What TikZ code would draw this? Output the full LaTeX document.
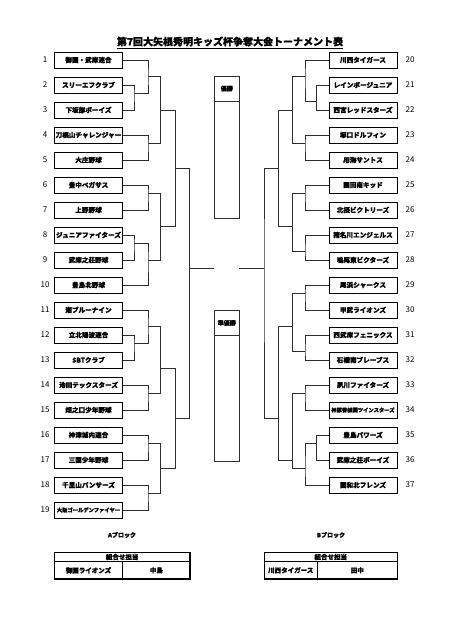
\documentclass[tikz,border=0pt]{standalone}
\usepackage{fontspec}
\setmainfont{Noto Sans CJK JP}[BoldFeatures={FakeBold=1.2}]
\usepackage{tikz}
\usetikzlibrary{positioning}
\definecolor{linegray}{RGB}{45, 45, 45}

\begin{document}
\begin{tikzpicture}[
    x=1pt, y=-1pt,
    team/.style={rectangle, draw=black, line width=0.9pt, minimum width=68pt, minimum height=16pt, inner sep=0pt, font=\bfseries\fontsize{6.6}{7}\selectfont},
    longname/.style={font=\bfseries\fontsize{5.3}{6}\selectfont},
    num/.style={font=\fontsize{8}{9}\selectfont},
    bracket/.style={draw=linegray, line width=0.8pt},
    prize/.style={rectangle, draw=linegray, line width=0.8pt, minimum width=25pt, inner sep=0pt, anchor=north},
    prizehead/.style={rectangle, draw=linegray, line width=0.8pt, minimum width=25pt, minimum height=25pt, inner sep=0pt, anchor=north, font=\bfseries\fontsize{6}{7}\selectfont},
    cell/.style={rectangle, draw=black, line width=1.2pt, inner sep=0pt, font=\bfseries\fontsize{6.5}{7}\selectfont}
]
    \useasboundingbox (0,0) rectangle (459,640);

    % Title
    \node (title) at (230, 42.5) {\bfseries\fontsize{10}{12}\selectfont\underline{第7回大矢根秀明キッズ杯争奪大会トーナメント表}};

    % A block teams
    \node (t1) [team] at (88.5, 60) {御園・武庫連合};
    \node (t2) [team] at (88.5, 85) {スリーエフクラブ};
    \node (t3) [team] at (88.5, 110) {下坂部ボーイズ};
    \node (t4) [team] at (88.5, 135) {刀根山チャレンジャー};
    \node (t5) [team] at (88.5, 160) {大庄野球};
    \node (t6) [team] at (88.5, 185) {豊中ペガサス};
    \node (t7) [team] at (88.5, 210) {上野野球};
    \node (t8) [team] at (88.5, 235) {ジュニアファイターズ};
    \node (t9) [team] at (88.5, 260) {武庫之荘野球};
    \node (t10) [team] at (88.5, 285) {豊島北野球};
    \node (t11) [team] at (88.5, 310) {潮ブルーナイン};
    \node (t12) [team] at (88.5, 335) {立北陽波連合};
    \node (t13) [team] at (88.5, 360) {SBTクラブ};
    \node (t14) [team] at (88.5, 385) {池田テックスターズ};
    \node (t15) [team] at (88.5, 410) {畑之口少年野球};
    \node (t16) [team] at (88.5, 435) {神津城内連合};
    \node (t17) [team] at (88.5, 460) {三国少年野球};
    \node (t18) [team] at (88.5, 485) {千里山パンサーズ};
    \node (t19) [team, longname] at (88.5, 510) {大阪ゴールデンファイヤー};

    % B block teams
    \node (t20) [team] at (363, 60) {川西タイガース};
    \node (t21) [team] at (363, 85) {レインボージュニア};
    \node (t22) [team] at (363, 110) {西宮レッドスターズ};
    \node (t23) [team] at (363, 135) {塚口ドルフィン};
    \node (t24) [team] at (363, 160) {用海サントス};
    \node (t25) [team] at (363, 185) {園田南キッド};
    \node (t26) [team] at (363, 210) {北摂ビクトリーズ};
    \node (t27) [team] at (363, 235) {猪名川エンジェルス};
    \node (t28) [team] at (363, 260) {鳴尾東ビクターズ};
    \node (t29) [team] at (363, 285) {尾浜シャークス};
    \node (t30) [team] at (363, 310) {甲武ライオンズ};
    \node (t31) [team] at (363, 335) {西武庫フェニックス};
    \node (t32) [team] at (363, 360) {石橋南ブレーブス};
    \node (t33) [team] at (363, 385) {夙川ファイターズ};
    \node (t34) [team, longname] at (363, 410) {神原香櫨園ツインスターズ};
    \node (t35) [team] at (363, 435) {豊島パワーズ};
    \node (t36) [team] at (363, 460) {武庫之荘ボーイズ};
    \node (t37) [team] at (363, 485) {園和北フレンズ};

    % Numbers
    \node (n1) [num] at (45, 60) {1};
    \node (n2) [num] at (45, 85) {2};
    \node (n3) [num] at (45, 110) {3};
    \node (n4) [num] at (45, 135) {4};
    \node (n5) [num] at (45, 160) {5};
    \node (n6) [num] at (45, 185) {6};
    \node (n7) [num] at (45, 210) {7};
    \node (n8) [num] at (45, 235) {8};
    \node (n9) [num] at (45, 260) {9};
    \node (n10) [num] at (45, 285) {10};
    \node (n11) [num] at (45, 310) {11};
    \node (n12) [num] at (45, 335) {12};
    \node (n13) [num] at (45, 360) {13};
    \node (n14) [num] at (45, 385) {14};
    \node (n15) [num] at (45, 410) {15};
    \node (n16) [num] at (45, 435) {16};
    \node (n17) [num] at (45, 460) {17};
    \node (n18) [num] at (45, 485) {18};
    \node (n19) [num] at (45, 510) {19};
    \node (n20) [num] at (410, 60) {20};
    \node (n21) [num] at (410, 85) {21};
    \node (n22) [num] at (410, 110) {22};
    \node (n23) [num] at (410, 135) {23};
    \node (n24) [num] at (410, 160) {24};
    \node (n25) [num] at (410, 185) {25};
    \node (n26) [num] at (410, 210) {26};
    \node (n27) [num] at (410, 235) {27};
    \node (n28) [num] at (410, 260) {28};
    \node (n29) [num] at (410, 285) {29};
    \node (n30) [num] at (410, 310) {30};
    \node (n31) [num] at (410, 335) {31};
    \node (n32) [num] at (410, 360) {32};
    \node (n33) [num] at (410, 385) {33};
    \node (n34) [num] at (410, 410) {34};
    \node (n35) [num] at (410, 435) {35};
    \node (n36) [num] at (410, 460) {36};
    \node (n37) [num] at (410, 485) {37};

    % Winner boxes
    \node (champ) [prize, minimum height=142pt] at (226.8, 75.7) {};
    \node (champhead) [prizehead] at (champ.north) {優勝};
    \node (second) [prize, minimum height=150.7pt] at (226.8, 310) {};
    \node (secondhead) [prizehead] at (second.north) {準優勝};

    % Junctions A block
    \coordinate (j23) at (134, 93.3);
    \coordinate (j1) at (148, 76.7);
    \coordinate (j45) at (148, 143.3);
    \coordinate (jA1) at (160.7, 110);
    \coordinate (j67) at (148, 193.3);
    \coordinate (j89) at (134, 243.3);
    \coordinate (j810) at (148, 260);
    \coordinate (jA2) at (160.7, 226.7);
    \coordinate (jA) at (175.3, 168.3);
    \coordinate (j1213) at (134, 343.3);
    \coordinate (j11) at (148, 326.7);
    \coordinate (j1415) at (148, 393.3);
    \coordinate (jB1) at (160.7, 368.3);
    \coordinate (j1617) at (148, 443.3);
    \coordinate (j1819) at (148, 493.3);
    \coordinate (jB2) at (160.7, 468.3);
    \coordinate (jB) at (175.3, 418.3);
    \coordinate (jL) at (189.5, 268.3);
    \coordinate (endL) at (214.3, 268.3);

    % Junctions B block
    \coordinate (r2122) at (316.7, 101.7);
    \coordinate (r20) at (305, 76.7);
    \coordinate (r2324) at (305, 143.3);
    \coordinate (rA1) at (292.7, 110);
    \coordinate (r2526) at (305, 193.3);
    \coordinate (r2728) at (305, 251.7);
    \coordinate (rA2) at (292.7, 226.7);
    \coordinate (rA) at (278.3, 168.3);
    \coordinate (r2930) at (305, 293.3);
    \coordinate (r3132) at (305, 351.7);
    \coordinate (rB1) at (292.7, 326.7);
    \coordinate (r3334) at (305, 393.3);
    \coordinate (r3536) at (316.7, 443.3);
    \coordinate (r37) at (305, 468.3);
    \coordinate (rB2) at (292.7, 460.7);
    \coordinate (rB) at (278.3, 418.3);
    \coordinate (rR) at (264, 268.3);
    \coordinate (endR) at (239.3, 268.3);

    % Bracket A
    \draw [bracket] (t2.east) -| (j23) |- (t3.east);
    \draw [bracket] (t1.east) -| (j1) |- (j23);
    \draw [bracket] (t4.east) -| (j45) |- (t5.east);
    \draw [bracket] (j1) -| (jA1) |- (j45);
    \draw [bracket] (t6.east) -| (j67) |- (t7.east);
    \draw [bracket] (t8.east) -| (j89) |- (t9.east);
    \draw [bracket] (j89) -| (j810) |- (t10.east);
    \draw [bracket] (j67) -| (jA2) |- (j810);
    \draw [bracket] (jA1) -| (jA) |- (jA2);
    \draw [bracket] (t12.east) -| (j1213) |- (t13.east);
    \draw [bracket] (t11.east) -| (j11) |- (j1213);
    \draw [bracket] (t14.east) -| (j1415) |- (t15.east);
    \draw [bracket] (j11) -| (jB1) |- (j1415);
    \draw [bracket] (t16.east) -| (j1617) |- (t17.east);
    \draw [bracket] (t18.east) -| (j1819) |- (t19.east);
    \draw [bracket] (j1617) -| (jB2) |- (j1819);
    \draw [bracket] (jB1) -| (jB) |- (jB2);
    \draw [bracket] (jA) -| (jL) |- (jB);
    \draw [bracket] (jL) -- (endL);

    % Bracket B
    \draw [bracket] (t21.west) -| (r2122) |- (t22.west);
    \draw [bracket] (t20.west) -| (r20) |- (r2122);
    \draw [bracket] (t23.west) -| (r2324) |- (t24.west);
    \draw [bracket] (r20) -| (rA1) |- (r2324);
    \draw [bracket] (t25.west) -| (r2526) |- (t26.west);
    \draw [bracket] (t27.west) -| (r2728) |- (t28.west);
    \draw [bracket] (r2526) -| (rA2) |- (r2728);
    \draw [bracket] (rA1) -| (rA) |- (rA2);
    \draw [bracket] (t29.west) -| (r2930) |- (t30.west);
    \draw [bracket] (t31.west) -| (r3132) |- (t32.west);
    \draw [bracket] (r2930) -| (rB1) |- (r3132);
    \draw [bracket] (t33.west) -| (r3334) |- (t34.west);
    \draw [bracket] (t35.west) -| (r3536) |- (t36.west);
    \draw [bracket] (r3536) -| (r37) |- (t37.west);
    \draw [bracket] (r3334) -| (rB2) |- (r37);
    \draw [bracket] (rB1) -| (rB) |- (rB2);
    \draw [bracket] (rA) -| (rR) |- (rB);
    \draw [bracket] (rR) -- (endR);

    % Block labels and tables
    \node (blockA) at (122, 535) {\bfseries\fontsize{6}{7}\selectfont Aブロック};
    \node (blockB) at (331, 535) {\bfseries\fontsize{6}{7}\selectfont Bブロック};

    \node (headA) [cell, minimum width=135.7pt, minimum height=9.4pt] at (122.15, 557) {組合せ担当};
    \node (teamA) [cell, minimum width=68.4pt, minimum height=17.3pt] at (88.5, 570.35) {御園ライオンズ};
    \node (nameA) [cell, minimum width=67.3pt, minimum height=17.3pt] at (156.35, 570.35) {中島};

    \node (headB) [cell, minimum width=133pt, minimum height=9.4pt] at (330.8, 557) {組合せ担当};
    \node (teamB) [cell, minimum width=53pt, minimum height=17.3pt] at (290.8, 570.35) {川西タイガース};
    \node (nameB) [cell, minimum width=80pt, minimum height=17.3pt] at (357.3, 570.35) {田中};

\end{tikzpicture}
\end{document}
